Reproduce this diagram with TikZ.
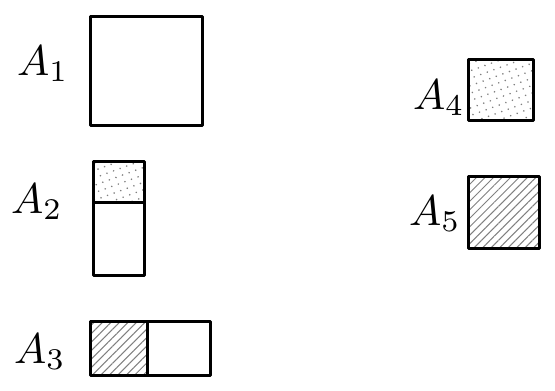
\documentclass[tikz,border=0pt]{standalone}
\usetikzlibrary{patterns.meta}
\begin{document}
\begin{tikzpicture}[x=1pt,y=-1pt,
  box/.style={draw=black,line width=3pt,line join=round},
  lbl/.style={inner sep=0pt},
  hatch/.style={pattern={Lines[angle=45,distance=6pt,line width=1pt]},pattern color=gray},
  dotsfill/.style={pattern={Dots[angle=20,distance=7pt,radius=0.9pt]},pattern color=gray}]
\useasboundingbox (0,0) rectangle (555,391);
% A1
\node[lbl] (l1) at (43,64) {\scalebox{4.3}{$A_1$}};
\draw[box] (90,16) rectangle (202,125);
% A2
\node[lbl] (l2) at (37,202) {\scalebox{4.3}{$A_2$}};
\fill[dotsfill] (93,161) rectangle (144,202);
\draw[box] (93,161) rectangle (144,275);
\draw[box] (93,202) -- (144,202);
% A3
\node[lbl] (l3) at (40,352) {\scalebox{4.3}{$A_3$}};
\fill[hatch] (90,321) rectangle (147,375);
\draw[box] (90,321) rectangle (210,375);
\draw[box] (147,321) -- (147,375);
% A4
\node[lbl] (l4) at (439,98) {\scalebox{4.3}{$A_4$}};
\fill[dotsfill] (468,59) rectangle (533,120);
\draw[box] (468,59) rectangle (533,120);
% A5
\node[lbl] (l5) at (435,214) {\scalebox{4.3}{$A_5$}};
\fill[hatch] (468,176) rectangle (539,248);
\draw[box] (468,176) rectangle (539,248);
\end{tikzpicture}
\end{document}
